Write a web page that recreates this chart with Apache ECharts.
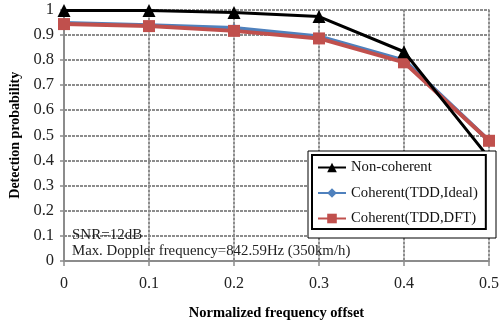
<!DOCTYPE html>
<html>
<head>
<meta charset="utf-8">
<script src="https://cdn.jsdelivr.net/npm/echarts@6/dist/echarts.min.js"></script>
<style>
  html, body { margin: 0; padding: 0; background: #fff; }
  #chart { width: 502px; height: 326px; }
</style>
</head>
<body>
<div id="chart"></div>
<script>
// Frequency offsets (normalized) on the x axis
const offsets = [0, 0.1, 0.2, 0.3, 0.4, 0.5];
// Detection probability per scheme
const nonCoherent = [0.996, 0.996, 0.988, 0.972, 0.832, 0.41];
const coherentIdeal = [0.946, 0.937, 0.926, 0.893, 0.798, 0.478];
const coherentDFT = [0.942, 0.934, 0.915, 0.885, 0.790, 0.478];
const yTicks = [0, 0.1, 0.2, 0.3, 0.4, 0.5, 0.6, 0.7, 0.8, 0.9, 1];

const serif = 'Liberation Serif, Times New Roman, serif';
const gridColor = '#8c8c8c';

const chart = echarts.init(document.getElementById('chart'));

function pairs(vals) { return offsets.map((x, i) => [x, vals[i]]); }

chart.setOption({
  animation: false,
  backgroundColor: '#fff',
  grid: { left: 63, right: 10, top: 9.5, bottom: 63.5, containLabel: false },
  xAxis: {
    type: 'value', min: 0, max: 0.5, interval: 0.1,
    name: 'Normalized frequency offset', nameLocation: 'middle', nameGap: 45,
    nameTextStyle: { fontFamily: serif, fontWeight: 'bold', fontSize: 14.5, color: '#000' },
    axisLine: { show: true, lineStyle: { color: gridColor, width: 2 } },
    axisTick: { show: true, length: 5, lineStyle: { color: gridColor, width: 1.5 } },
    axisLabel: { fontFamily: serif, fontSize: 16, color: '#222', margin: 15,
      formatter: v => String(+v.toFixed(1)) },
    splitLine: { show: true, lineStyle: { color: gridColor, width: 2, type: [3, 1] } }
  },
  yAxis: {
    type: 'value', min: 0, max: 1, interval: 0.1,
    name: 'Detection probability', nameLocation: 'middle', nameGap: 42, nameRotate: 90,
    nameTextStyle: { fontFamily: serif, fontWeight: 'bold', fontSize: 14, color: '#000' },
    axisLine: { show: true, lineStyle: { color: gridColor, width: 2 } },
    axisTick: { show: true, length: 4, lineStyle: { color: gridColor, width: 1.5 } },
    axisLabel: { fontFamily: serif, fontSize: 16.5, color: '#222', margin: 10,
      formatter: v => String(+v.toFixed(1)) },
    splitLine: { show: true, lineStyle: { color: gridColor, width: 2, type: [3, 1] } }
  },
  legend: {
    orient: 'vertical', left: 312, top: 155, z: 10,
    itemWidth: 28, itemHeight: 12, itemGap: 10.5,
    padding: [5, 8, 3, 5],
    backgroundColor: '#fff', borderColor: '#000', borderWidth: 2,
    textStyle: { fontFamily: serif, fontSize: 14.7, color: '#111' },
    data: ['Non-coherent', 'Coherent(TDD,Ideal)', 'Coherent(TDD,DFT)']
  },
  graphic: [
    { type: 'rect', z: 9, shape: { x: 308, y: 151, width: 188, height: 87 },
      style: { fill: '#fff', stroke: '#000', lineWidth: 1 } },
    { type: 'text', left: 72, top: 228, z: 5,
      style: { text: 'SNR=12dB', fontFamily: serif, fontSize: 15, fill: '#222' } },
    { type: 'text', left: 72, top: 244, z: 5,
      style: { text: 'Max. Doppler frequency=842.59Hz (350km/h)', fontFamily: serif, fontSize: 14.8, fill: '#222' } }
  ],
  series: [
    { name: 'Non-coherent', type: 'line', data: pairs(nonCoherent),
      symbol: 'triangle', symbolSize: 13,
      lineStyle: { color: '#000', width: 3 }, itemStyle: { color: '#000' }, z: 4 },
    { name: 'Coherent(TDD,Ideal)', type: 'line', data: pairs(coherentIdeal),
      symbol: 'diamond', symbolSize: 9,
      lineStyle: { color: '#4f81bd', width: 4 }, itemStyle: { color: '#4f81bd' }, z: 2 },
    { name: 'Coherent(TDD,DFT)', type: 'line', data: pairs(coherentDFT),
      symbol: 'rect', symbolSize: 12,
      lineStyle: { color: '#c0504d', width: 4 }, itemStyle: { color: '#c0504d' }, z: 3 }
  ]
});
</script>
</body>
</html>
